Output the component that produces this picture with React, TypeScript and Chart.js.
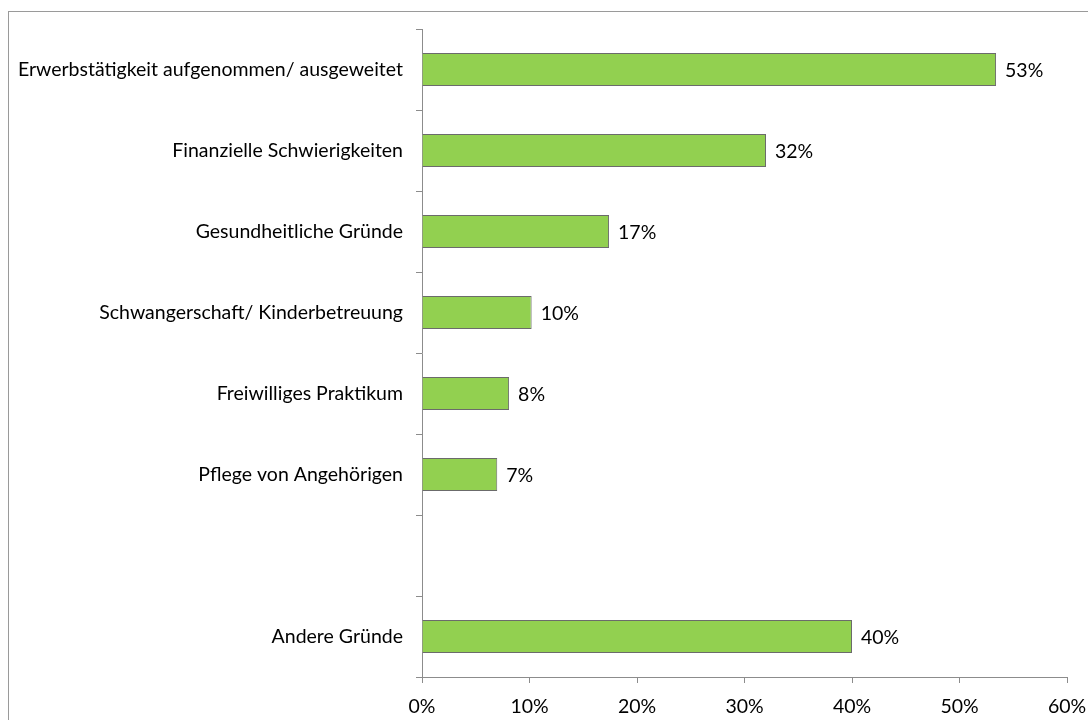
import React, { useEffect, useRef } from "react";
import { Chart, registerables } from "chart.js";

Chart.register(...registerables);

const categories = [
  "Erwerbstätigkeit aufgenommen/ ausgeweitet",
  "Finanzielle Schwierigkeiten",
  "Gesundheitliche Gründe",
  "Schwangerschaft/ Kinderbetreuung",
  "Freiwilliges Praktikum",
  "Pflege von Angehörigen",
  "",
  "Andere Gründe",
];

const shares: (number | null)[] = [53.4, 32.0, 17.4, 10.2, 8.1, 7.0, null, 40.0];

const xTicks = [0, 10, 20, 30, 40, 50, 60];

const FONT_FAMILY = "Lato, 'Open Sans', sans-serif";
const FONT_SIZE = 19.5;

const valueLabelPlugin = {
  id: "valueLabels",
  afterDatasetsDraw(chart: any) {
    const ctx = chart.ctx;
    const meta = chart.getDatasetMeta(0);
    ctx.save();
    ctx.font = `${FONT_SIZE}px ${FONT_FAMILY}`;
    ctx.fillStyle = "#000";
    ctx.textAlign = "left";
    ctx.textBaseline = "middle";
    meta.data.forEach((el: any, i: number) => {
      const v = shares[i];
      if (v === null || v === undefined) return;
      ctx.fillText(`${Math.round(v)}%`, el.x + 9, el.y + 1);
    });
    ctx.restore();
  },
};

export default function App() {
  const canvasRef = useRef<HTMLCanvasElement | null>(null);

  useEffect(() => {
    if (!canvasRef.current) return;
    const chart = new Chart(canvasRef.current, {
      type: "bar",
      data: {
        labels: categories,
        datasets: [
          {
            data: shares,
            backgroundColor: "#92D050",
            borderColor: "#6b6b6b",
            borderWidth: 1,
            barPercentage: 0.41,
            categoryPercentage: 1,
          },
        ],
      },
      options: {
        indexAxis: "y",
        responsive: false,
        animation: false,
        layout: { padding: { left: 0, right: 42, top: 17, bottom: 0 } },
        plugins: {
          legend: { display: false },
          tooltip: { enabled: false },
        },
        scales: {
          y: {
            offset: true,
            grid: {
              offset: true,
              drawOnChartArea: false,
              drawTicks: true,
              tickLength: 6,
              color: "#8c8c8c",
            },
            border: { display: true, color: "#8c8c8c", width: 1 },
            ticks: {
              color: "#000",
              padding: 13,
              font: { family: FONT_FAMILY, size: FONT_SIZE },
              autoSkip: false,
            },
            afterFit(scale: any) {
              scale.width = 413;
              scale.paddingTop = 0;
              scale.paddingBottom = 0;
            },
          },
          x: {
            min: 0,
            max: 60,
            afterBuildTicks(scale: any) {
              scale.ticks = xTicks.map((v) => ({ value: v }));
            },
            grid: {
              drawOnChartArea: false,
              drawTicks: true,
              tickLength: 6,
              color: "#8c8c8c",
            },
            border: { display: true, color: "#8c8c8c", width: 1 },
            ticks: {
              color: "#000",
              padding: 12,
              font: { family: FONT_FAMILY, size: FONT_SIZE },
              callback: (v: any) => `${v}%`,
              maxRotation: 0,
            },
            afterFit(scale: any) {
              scale.height = 55;
            },
          },
        },
      },
      plugins: [valueLabelPlugin],
    } as any);
    return () => chart.destroy();
  }, []);

  return (
    <div
      style={{
        position: "fixed",
        left: 8,
        top: 11,
        width: 1100,
        height: 720,
        border: "1px solid #9a9a9a",
        background: "#fff",
      }}
    >
      <canvas
        ref={canvasRef}
        width={1100}
        height={720}
        style={{ display: "block", width: 1100, height: 720 }}
      />
    </div>
  );
}
